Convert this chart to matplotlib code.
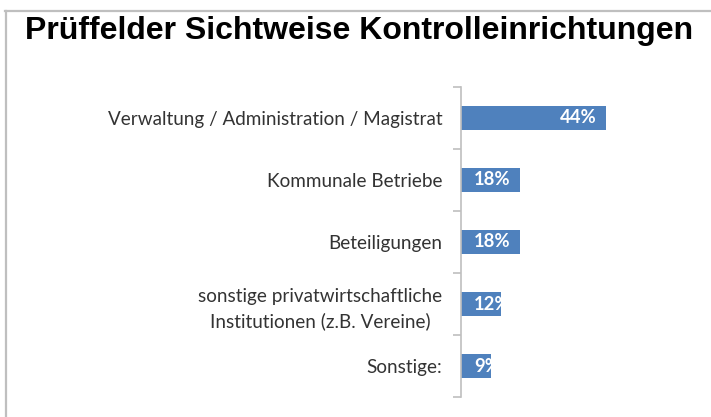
import matplotlib
matplotlib.use("Agg")
import matplotlib.pyplot as plt
from matplotlib.lines import Line2D

# --------------------------------------------------
#  Daten
# --------------------------------------------------
categories = [
    "Verwaltung / Administration / Magistrat",
    "Kommunale Betriebe",
    "Beteiligungen",
    "sonstige privatwirtschaftliche\nInstitutionen (z.B. Vereine)",
    "Sonstige:",
]
values = [44, 18, 18, 12, 9]
value_labels = ["44%", "18%", "18%", "12%", "9%"]

title = "Prüffelder Sichtweise Kontrolleinrichtungen"

BAR_COLOR = "#4F81BD"
AXIS_GREY = "#BFBFBF"
TEXT_COLOR = "#333333"

fig = plt.figure(figsize=(7.11, 4.17), dpi=100)
fig.patch.set_facecolor("white")

# Rahmen (oben + links)
fig.add_artist(Line2D([5 / 711, 1], [1 - 10.5 / 417, 1 - 10.5 / 417],
                      color=AXIS_GREY, linewidth=1.6))
fig.add_artist(Line2D([5.5 / 711, 5.5 / 711], [0, 1 - 10.5 / 417],
                      color=AXIS_GREY, linewidth=1.6))

# Titel
fig.text(359 / 711, 1 - 31 / 417, title, ha="center", va="center",
         fontsize=23, fontweight="bold", family="Liberation Sans", color="black")

ax = fig.add_axes([461 / 711, 20 / 417, 231 / 711, 310 / 417])
pos = list(range(len(categories)))
bars = ax.barh(pos, values, height=0.39, color=BAR_COLOR, zorder=2)

ax.set_xlim(0, 70)
ax.set_ylim(len(categories) - 0.5, -0.5)

for s in ["top", "right", "bottom"]:
    ax.spines[s].set_visible(False)
ax.spines["left"].set_color(AXIS_GREY)
ax.spines["left"].set_linewidth(1.2)
ax.set_xticks([])

ax.set_yticks(pos)
ax.set_yticklabels(categories, fontsize=13.6, family="Lato", color=TEXT_COLOR,
                   multialignment="center", linespacing=1.45)
ax.tick_params(axis="y", which="major", length=0, pad=13.5)
ax.set_yticks([p - 0.5 for p in pos] + [len(pos) - 0.5], minor=True)
ax.tick_params(axis="y", which="minor", length=6, width=1.2, color=AXIS_GREY)

# Datenbeschriftungen (innen, am Ende; bei kurzen Balken abgeschnitten)
for bar, v, lab in zip(bars, values, value_labels):
    if v - 3 >= 14:
        t = ax.text(v - 3, bar.get_y() + bar.get_height() / 2, lab,
                    ha="right", va="center")
    else:
        t = ax.text(4, bar.get_y() + bar.get_height() / 2, lab,
                    ha="left", va="center")
    t.set_fontsize(13.3)
    t.set_fontweight("bold")
    t.set_family("Lato")
    t.set_color("white")
    t.set_zorder(3)
    t.set_clip_path(bar)

fig.savefig("out.png", dpi=100)
